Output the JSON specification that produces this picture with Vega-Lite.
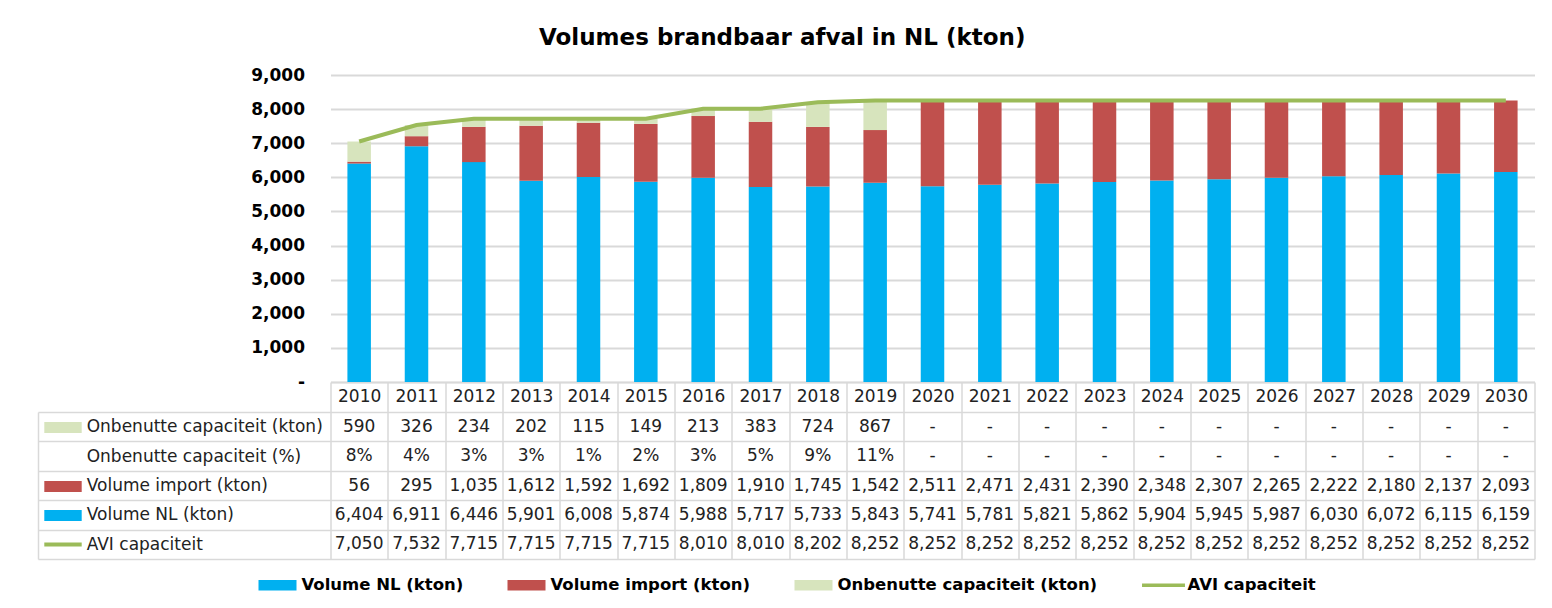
{
  "$schema": "https://vega.github.io/schema/vega-lite/v6.json",
  "padding": {"left": 36.5, "top": 27, "right": 10, "bottom": 10},
  "background": "white",
  "title": {"text": "Volumes brandbaar afval in NL (kton)", "font": "DejaVu Sans", "fontSize": 23, "fontWeight": "bold", "color": "#000", "anchor": "middle", "frame": "bounds", "offset": 16, "dx": -4},
  "datasets": {
    "vals": [
      {"year":"2010","series":"Volume NL (kton)","value":6404,"k":1},
      {"year":"2011","series":"Volume NL (kton)","value":6911,"k":1},
      {"year":"2012","series":"Volume NL (kton)","value":6446,"k":1},
      {"year":"2013","series":"Volume NL (kton)","value":5901,"k":1},
      {"year":"2014","series":"Volume NL (kton)","value":6008,"k":1},
      {"year":"2015","series":"Volume NL (kton)","value":5874,"k":1},
      {"year":"2016","series":"Volume NL (kton)","value":5988,"k":1},
      {"year":"2017","series":"Volume NL (kton)","value":5717,"k":1},
      {"year":"2018","series":"Volume NL (kton)","value":5733,"k":1},
      {"year":"2019","series":"Volume NL (kton)","value":5843,"k":1},
      {"year":"2020","series":"Volume NL (kton)","value":5741,"k":1},
      {"year":"2021","series":"Volume NL (kton)","value":5781,"k":1},
      {"year":"2022","series":"Volume NL (kton)","value":5821,"k":1},
      {"year":"2023","series":"Volume NL (kton)","value":5862,"k":1},
      {"year":"2024","series":"Volume NL (kton)","value":5904,"k":1},
      {"year":"2025","series":"Volume NL (kton)","value":5945,"k":1},
      {"year":"2026","series":"Volume NL (kton)","value":5987,"k":1},
      {"year":"2027","series":"Volume NL (kton)","value":6030,"k":1},
      {"year":"2028","series":"Volume NL (kton)","value":6072,"k":1},
      {"year":"2029","series":"Volume NL (kton)","value":6115,"k":1},
      {"year":"2030","series":"Volume NL (kton)","value":6159,"k":1},
      {"year":"2010","series":"Volume import (kton)","value":56,"k":2},
      {"year":"2011","series":"Volume import (kton)","value":295,"k":2},
      {"year":"2012","series":"Volume import (kton)","value":1035,"k":2},
      {"year":"2013","series":"Volume import (kton)","value":1612,"k":2},
      {"year":"2014","series":"Volume import (kton)","value":1592,"k":2},
      {"year":"2015","series":"Volume import (kton)","value":1692,"k":2},
      {"year":"2016","series":"Volume import (kton)","value":1809,"k":2},
      {"year":"2017","series":"Volume import (kton)","value":1910,"k":2},
      {"year":"2018","series":"Volume import (kton)","value":1745,"k":2},
      {"year":"2019","series":"Volume import (kton)","value":1542,"k":2},
      {"year":"2020","series":"Volume import (kton)","value":2511,"k":2},
      {"year":"2021","series":"Volume import (kton)","value":2471,"k":2},
      {"year":"2022","series":"Volume import (kton)","value":2431,"k":2},
      {"year":"2023","series":"Volume import (kton)","value":2390,"k":2},
      {"year":"2024","series":"Volume import (kton)","value":2348,"k":2},
      {"year":"2025","series":"Volume import (kton)","value":2307,"k":2},
      {"year":"2026","series":"Volume import (kton)","value":2265,"k":2},
      {"year":"2027","series":"Volume import (kton)","value":2222,"k":2},
      {"year":"2028","series":"Volume import (kton)","value":2180,"k":2},
      {"year":"2029","series":"Volume import (kton)","value":2137,"k":2},
      {"year":"2030","series":"Volume import (kton)","value":2093,"k":2},
      {"year":"2010","series":"Onbenutte capaciteit (kton)","value":590,"k":3},
      {"year":"2011","series":"Onbenutte capaciteit (kton)","value":326,"k":3},
      {"year":"2012","series":"Onbenutte capaciteit (kton)","value":234,"k":3},
      {"year":"2013","series":"Onbenutte capaciteit (kton)","value":202,"k":3},
      {"year":"2014","series":"Onbenutte capaciteit (kton)","value":115,"k":3},
      {"year":"2015","series":"Onbenutte capaciteit (kton)","value":149,"k":3},
      {"year":"2016","series":"Onbenutte capaciteit (kton)","value":213,"k":3},
      {"year":"2017","series":"Onbenutte capaciteit (kton)","value":383,"k":3},
      {"year":"2018","series":"Onbenutte capaciteit (kton)","value":724,"k":3},
      {"year":"2019","series":"Onbenutte capaciteit (kton)","value":867,"k":3},
      {"year":"2020","series":"Onbenutte capaciteit (kton)","value":null,"k":3},
      {"year":"2021","series":"Onbenutte capaciteit (kton)","value":null,"k":3},
      {"year":"2022","series":"Onbenutte capaciteit (kton)","value":null,"k":3},
      {"year":"2023","series":"Onbenutte capaciteit (kton)","value":null,"k":3},
      {"year":"2024","series":"Onbenutte capaciteit (kton)","value":null,"k":3},
      {"year":"2025","series":"Onbenutte capaciteit (kton)","value":null,"k":3},
      {"year":"2026","series":"Onbenutte capaciteit (kton)","value":null,"k":3},
      {"year":"2027","series":"Onbenutte capaciteit (kton)","value":null,"k":3},
      {"year":"2028","series":"Onbenutte capaciteit (kton)","value":null,"k":3},
      {"year":"2029","series":"Onbenutte capaciteit (kton)","value":null,"k":3},
      {"year":"2030","series":"Onbenutte capaciteit (kton)","value":null,"k":3},
      {"year":"2010","series":"Onbenutte capaciteit (%)","value":0.08,"k":4},
      {"year":"2011","series":"Onbenutte capaciteit (%)","value":0.04,"k":4},
      {"year":"2012","series":"Onbenutte capaciteit (%)","value":0.03,"k":4},
      {"year":"2013","series":"Onbenutte capaciteit (%)","value":0.03,"k":4},
      {"year":"2014","series":"Onbenutte capaciteit (%)","value":0.01,"k":4},
      {"year":"2015","series":"Onbenutte capaciteit (%)","value":0.02,"k":4},
      {"year":"2016","series":"Onbenutte capaciteit (%)","value":0.03,"k":4},
      {"year":"2017","series":"Onbenutte capaciteit (%)","value":0.05,"k":4},
      {"year":"2018","series":"Onbenutte capaciteit (%)","value":0.09,"k":4},
      {"year":"2019","series":"Onbenutte capaciteit (%)","value":0.11,"k":4},
      {"year":"2020","series":"Onbenutte capaciteit (%)","value":null,"k":4},
      {"year":"2021","series":"Onbenutte capaciteit (%)","value":null,"k":4},
      {"year":"2022","series":"Onbenutte capaciteit (%)","value":null,"k":4},
      {"year":"2023","series":"Onbenutte capaciteit (%)","value":null,"k":4},
      {"year":"2024","series":"Onbenutte capaciteit (%)","value":null,"k":4},
      {"year":"2025","series":"Onbenutte capaciteit (%)","value":null,"k":4},
      {"year":"2026","series":"Onbenutte capaciteit (%)","value":null,"k":4},
      {"year":"2027","series":"Onbenutte capaciteit (%)","value":null,"k":4},
      {"year":"2028","series":"Onbenutte capaciteit (%)","value":null,"k":4},
      {"year":"2029","series":"Onbenutte capaciteit (%)","value":null,"k":4},
      {"year":"2030","series":"Onbenutte capaciteit (%)","value":null,"k":4},
      {"year":"2010","series":"AVI capaciteit","value":7050,"k":5},
      {"year":"2011","series":"AVI capaciteit","value":7532,"k":5},
      {"year":"2012","series":"AVI capaciteit","value":7715,"k":5},
      {"year":"2013","series":"AVI capaciteit","value":7715,"k":5},
      {"year":"2014","series":"AVI capaciteit","value":7715,"k":5},
      {"year":"2015","series":"AVI capaciteit","value":7715,"k":5},
      {"year":"2016","series":"AVI capaciteit","value":8010,"k":5},
      {"year":"2017","series":"AVI capaciteit","value":8010,"k":5},
      {"year":"2018","series":"AVI capaciteit","value":8202,"k":5},
      {"year":"2019","series":"AVI capaciteit","value":8252,"k":5},
      {"year":"2020","series":"AVI capaciteit","value":8252,"k":5},
      {"year":"2021","series":"AVI capaciteit","value":8252,"k":5},
      {"year":"2022","series":"AVI capaciteit","value":8252,"k":5},
      {"year":"2023","series":"AVI capaciteit","value":8252,"k":5},
      {"year":"2024","series":"AVI capaciteit","value":8252,"k":5},
      {"year":"2025","series":"AVI capaciteit","value":8252,"k":5},
      {"year":"2026","series":"AVI capaciteit","value":8252,"k":5},
      {"year":"2027","series":"AVI capaciteit","value":8252,"k":5},
      {"year":"2028","series":"AVI capaciteit","value":8252,"k":5},
      {"year":"2029","series":"AVI capaciteit","value":8252,"k":5},
      {"year":"2030","series":"AVI capaciteit","value":8252,"k":5}
    ]
  },
  "bounds": "flush",
  "spacing": 30,
  "vconcat": [
    {
      "width": 1204,
      "height": 307,
      "data": {"name": "vals"},
      "layer": [
        {
          "transform": [{"filter": "datum.k <= 3 && isValid(datum.value)"}],
          "mark": {"type": "bar", "width": {"band": 0.41}},
          "encoding": {
            "x": {"field": "year", "type": "nominal", "scale": {"paddingInner": 0, "paddingOuter": 0},
              "axis": {"title": null, "orient": "bottom", "tickBand": "extent", "tickSize": 30, "tickColor": "#D9D9D9", "tickWidth": 1.5, "domainColor": "#D9D9D9", "domainWidth": 1.5, "labelAngle": 0, "labelFont": "DejaVu Sans", "labelFontSize": 17, "labelColor": "#222", "labelBaseline": "middle", "labelPadding": -16, "grid": false}},
            "y": {"field": "value", "type": "quantitative", "stack": "zero", "scale": {"domain": [0, 9000], "nice": false},
              "axis": {"title": null, "values": [0,1000,2000,3000,4000,5000,6000,7000,8000,9000], "tickCount": 10, "labelOverlap": false, "labelExpr": "datum.value === 0 ? '-\u00a0' : format(datum.value, ',')", "ticks": false, "domain": false, "grid": true, "gridColor": "#D9D9D9", "gridWidth": 2, "labelFont": "DejaVu Sans", "labelFontWeight": "bold", "labelFontSize": 17, "labelColor": "#000", "labelPadding": 26}},
            "color": {"field": "series", "type": "nominal",
              "scale": {"domain": ["Volume NL (kton)", "Volume import (kton)", "Onbenutte capaciteit (kton)", "AVI capaciteit"], "range": ["#00B0F0", "#C0504D", "#D7E4BD", "#9BBB59"]},
              "legend": {"title": null, "orient": "none", "legendX": -72, "legendY": 491, "direction": "horizontal", "columns": 4, "columnPadding": 44, "symbolSize": 1444, "labelOffset": 5, "labelFont": "DejaVu Sans", "labelFontWeight": "bold", "labelFontSize": 16.5, "labelColor": "#000", "padding": 0, "labelLimit": 400, "symbolType": "M-1,-0.27H1V0.27H-1Z",
                "encode": {"symbols": {"update": {"shape": {"signal": "datum.value === 'AVI capaciteit' ? 'M-1.13,-0.09H1.13V0.09H-1.13Z' : 'M-1,-0.27H1V0.27H-1Z'"}, "fill": {"scale": "color", "field": "value"}, "stroke": {"value": "transparent"}, "strokeWidth": {"value": 0}, "opacity": {"value": 1}}}}}},
            "order": {"field": "k", "type": "quantitative", "sort": "ascending"}
          }
        },
        {
          "transform": [{"filter": "datum.k == 5"}],
          "mark": {"type": "line", "strokeWidth": 4},
          "encoding": {
            "x": {"field": "year", "type": "nominal"},
            "y": {"field": "value", "type": "quantitative"},
            "color": {"field": "series", "type": "nominal"}
          }
        }
      ]
    },
    {
      "width": 1204,
      "height": 147,
      "data": {"name": "vals"},
      "resolve": {"scale": {"y": "independent"}},
      "layer": [
        {
          "transform": [{"filter": "isValid(datum.value) && datum.k != 4"}],
          "mark": {"type": "text", "font": "DejaVu Sans", "fontSize": 17, "color": "#222", "baseline": "middle"},
          "encoding": {
            "x": {"field": "year", "type": "nominal", "scale": {"paddingInner": 0, "paddingOuter": 0},
              "axis": {"orient": "top", "title": null, "labels": false, "ticks": false, "domain": false, "grid": true, "tickBand": "extent", "gridColor": "#D9D9D9", "gridWidth": 1.5}},
            "y": {"field": "series", "type": "nominal",
              "scale": {"domain": ["Onbenutte capaciteit (kton)", "Onbenutte capaciteit (%)", "Volume import (kton)", "Volume NL (kton)", "AVI capaciteit"], "paddingInner": 0, "paddingOuter": 0},
              "axis": {"title": null, "orient": "left", "offset": 249.3, "domain": false, "grid": false, "tickSize": 37.4,
                "tickColor": {"condition": [
                  {"test": "datum.value === 'Onbenutte capaciteit (kton)'", "value": "#D7E4BD"},
                  {"test": "datum.value === 'Volume import (kton)'", "value": "#C0504D"},
                  {"test": "datum.value === 'Volume NL (kton)'", "value": "#00B0F0"},
                  {"test": "datum.value === 'AVI capaciteit'", "value": "#9BBB59"}], "value": "transparent"},
                "tickWidth": {"condition": {"test": "datum.value === 'AVI capaciteit'", "value": 4}, "value": 11},
                "labelAlign": "left", "labelBaseline": "middle", "labelPadding": -42.4, "labelFont": "DejaVu Sans", "labelFontSize": 17, "labelColor": "#222", "labelLimit": 400}},
            "text": {"field": "value", "type": "quantitative", "format": ","}
          }
        },
        {
          "transform": [{"filter": "isValid(datum.value) && datum.k == 4"}],
          "mark": {"type": "text", "font": "DejaVu Sans", "fontSize": 17, "color": "#222", "baseline": "middle"},
          "encoding": {
            "x": {"field": "year", "type": "nominal"},
            "y": {"field": "series", "type": "nominal",
              "scale": {"domain": ["Onbenutte capaciteit (kton)", "Onbenutte capaciteit (%)", "Volume import (kton)", "Volume NL (kton)", "AVI capaciteit"], "paddingInner": 0, "paddingOuter": 0},
              "axis": null},
            "text": {"field": "value", "type": "quantitative", "format": ".0%"}
          }
        },
        {
          "transform": [{"filter": "!isValid(datum.value)"}],
          "mark": {"type": "text", "font": "DejaVu Sans", "fontSize": 17, "color": "#222", "baseline": "middle"},
          "encoding": {
            "x": {"field": "year", "type": "nominal"},
            "y": {"field": "series", "type": "nominal",
              "scale": {"domain": ["Onbenutte capaciteit (kton)", "Onbenutte capaciteit (%)", "Volume import (kton)", "Volume NL (kton)", "AVI capaciteit"], "paddingInner": 0, "paddingOuter": 0},
              "axis": {"title": null, "orient": "left", "offset": 292.5, "labels": false, "grid": false, "tickBand": "extent", "tickSize": -1496.5, "tickColor": "#D9D9D9", "tickWidth": 1.5, "domainColor": "#D9D9D9", "domainWidth": 1.5}},
            "text": {"value": "-"}
          }
        }
      ]
    }
  ],
  "config": {
    "view": {"stroke": null},
    "font": "DejaVu Sans"
  }
}
